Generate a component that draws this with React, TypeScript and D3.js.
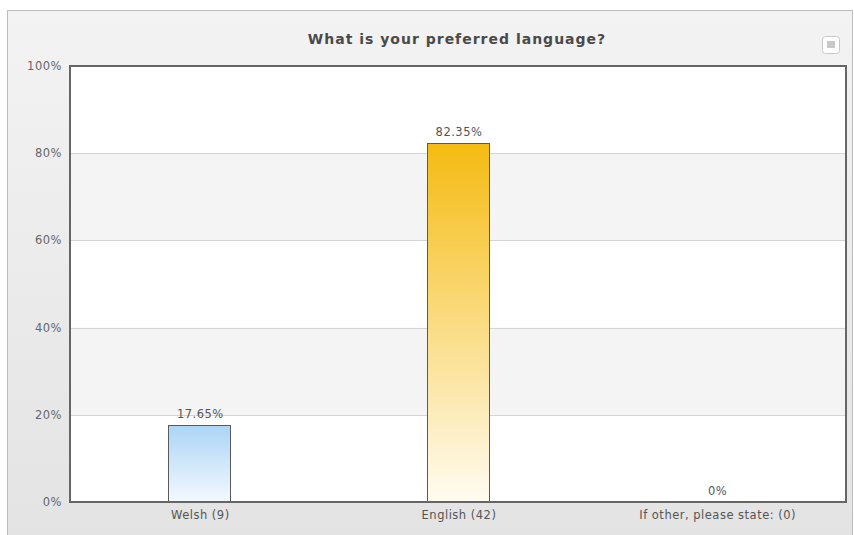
import React from "react";
import * as d3 from "d3";

const categories = ["Welsh (9)", "English (42)", "If other, please state: (0)"];
const values = [17.65, 82.35, 0];
const valueLabels = ["17.65%", "82.35%", "0%"];
const yTicks = [0, 20, 40, 60, 80, 100];
const title = "What is your preferred language?";

const W = 854, H = 535;
const plot = { left: 70, right: 846, top: 66, bottom: 502 };
const font = "Verdana, 'DejaVu Sans', sans-serif";

export default function App() {
  const x = d3.scaleBand().domain(categories).range([plot.left, plot.right]);
  const y = d3.scaleLinear().domain([0, 100]).range([plot.bottom, plot.top]);
  const barW = 62;
  const gradIds = ["gWelsh", "gEnglish", "gOther"];
  return (
    <svg width={W} height={H} style={{ position: "absolute", left: 0, top: 0, display: "block" }}>
      <defs>
        <linearGradient id="bg" x1="0" y1="0" x2="0" y2="1">
          <stop offset="0" stopColor="#f3f3f3" />
          <stop offset="1" stopColor="#e3e3e3" />
        </linearGradient>
        <linearGradient id="gWelsh" x1="0" y1="0" x2="0" y2="1">
          <stop offset="0" stopColor="#acd5f6" />
          <stop offset="1" stopColor="#f4f9ff" />
        </linearGradient>
        <linearGradient id="gEnglish" x1="0" y1="0" x2="0" y2="1">
          <stop offset="0" stopColor="#f5bb12" />
          <stop offset="1" stopColor="#fffcf2" />
        </linearGradient>
        <linearGradient id="gOther" x1="0" y1="0" x2="0" y2="1">
          <stop offset="0" stopColor="#9fd46a" />
          <stop offset="1" stopColor="#f6fbf0" />
        </linearGradient>
      </defs>
      <rect x={0} y={0} width={W} height={H} fill="#ffffff" />
      <rect x={7.5} y={10.5} width={845} height={540} fill="url(#bg)" stroke="#bdbdbd" strokeWidth={1} />
      <text x={457} y={44} textAnchor="middle" fontFamily={font} fontWeight="bold" fontSize={14} letterSpacing={1} fill="#4a4a4a">
        {title}
      </text>
      {/* menu button */}
      <rect x={822.5} y={36.5} width={17} height={17} rx={3} fill="#ffffff" stroke="#c8c8c8" />
      <rect x={827} y={41} width={8} height={7} fill="#c8c8c8" />
      {/* plot background bands */}
      <rect x={plot.left} y={plot.top} width={plot.right - plot.left} height={plot.bottom - plot.top} fill="#ffffff" />
      {yTicks.slice(0, -1).map((t, i) =>
        i % 2 === 1 ? (
          <rect key={"band" + t} x={plot.left} y={y(t + 20)} width={plot.right - plot.left} height={y(t) - y(t + 20)} fill="#f4f4f4" />
        ) : null
      )}
      {yTicks.slice(1, -1).map((t) => (
        <line key={"grid" + t} x1={plot.left} x2={plot.right} y1={Math.round(y(t)) + 0.5} y2={Math.round(y(t)) + 0.5} stroke="#d4d4d4" />
      ))}
      {yTicks.map((t) => (
        <text key={"yt" + t} x={plot.left - 8} y={y(t) + 4} textAnchor="end" fontFamily={font} fontSize={11.5} letterSpacing={0.5} fill="#666">
          {t + "%"}
        </text>
      ))}
      {categories.map((c, i) => {
        const cx = (x(c) as number) + x.bandwidth() / 2;
        const top = y(values[i]);
        return (
          <g key={c}>
            {values[i] > 0 && (
              <rect x={Math.round(cx - barW / 2) + 0.5} y={Math.round(top) + 0.5} width={barW} height={plot.bottom - Math.round(top)} fill={`url(#${gradIds[i]})`} stroke="#5a5a5a" strokeWidth={1} />
            )}
            <text x={cx + 1} y={top - 7} textAnchor="middle" fontFamily={font} fontSize={11.5} letterSpacing={0.5} fill="#555">
              {valueLabels[i]}
            </text>
            <text x={cx + 1} y={plot.bottom + 17} textAnchor="middle" fontFamily={font} fontSize={11.5} letterSpacing={0.5} fill="#555">
              {c}
            </text>
          </g>
        );
      })}
      <rect x={plot.left} y={plot.top} width={plot.right - plot.left} height={plot.bottom - plot.top} fill="none" stroke="#666" strokeWidth={2} />
    </svg>
  );
}
